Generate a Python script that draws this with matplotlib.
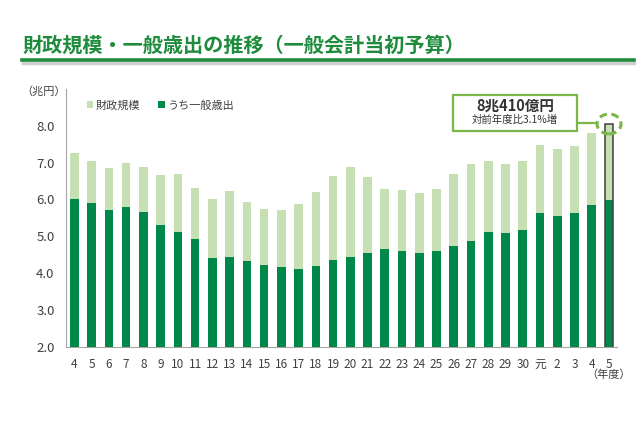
import matplotlib.pyplot as plt
from matplotlib.patches import Rectangle, Ellipse
from matplotlib.lines import Line2D

plt.rcParams['font.family'] = ['Noto Sans CJK JP', 'DejaVu Sans']

# 年度
years = ['4', '5', '6', '7', '8', '9', '10', '11', '12', '13', '14', '15', '16',
         '17', '18', '19', '20', '21', '22', '23', '24', '25', '26', '27', '28',
         '29', '30', '元', '2', '3', '4', '5']
# 財政規模（兆円）
total = [7.26, 7.04, 6.86, 7.00, 6.89, 6.67, 6.70, 6.32, 6.01, 6.23, 5.93, 5.75,
         5.72, 5.88, 6.19, 6.63, 6.87, 6.62, 6.29, 6.26, 6.17, 6.29, 6.69, 6.97,
         7.03, 6.97, 7.05, 7.49, 7.38, 7.46, 7.80, 8.04]
# うち一般歳出（兆円）
general = [6.01, 5.90, 5.70, 5.78, 5.67, 5.31, 5.12, 4.91, 4.40, 4.43, 4.32, 4.21,
           4.15, 4.11, 4.20, 4.35, 4.43, 4.55, 4.64, 4.60, 4.54, 4.61, 4.73, 4.88,
           5.11, 5.08, 5.18, 5.62, 5.55, 5.63, 5.86, 5.97]

LIGHT = '#c6e0b4'
DARK = '#00874a'
ACCENT = '#7ab648'
TITLE_GREEN = '#1e8c3c'
GRAY = '#404040'

fig = plt.figure(figsize=(6.4, 4.26), dpi=100)
fig.patch.set_facecolor('white')

# title + underline
fig.text(0.035, 0.895, '財政規模・一般歳出の推移（一般会計当初予算）',
         fontsize=14.5, fontweight='bold', color=TITLE_GREEN, va='center', ha='left')
fig.add_artist(Line2D([0.036, 0.99], [0.853, 0.853], color='#b0b0b0', lw=2.5, alpha=0.6))
fig.add_artist(Line2D([0.035, 0.99], [0.858, 0.858], color=TITLE_GREEN, lw=2.6))

ax = fig.add_axes([0.1027, 0.1866, 0.8613, 0.6044])
x = list(range(len(years)))

ax.bar(x, total, width=0.5, color=LIGHT, label='財政規模', zorder=2)
ax.bar(x, general, width=0.5, color=DARK, label='うち一般歳出', zorder=3)
# outline for latest year
ax.bar(x[-1], total[-1], width=0.5, fill=False, edgecolor=GRAY, lw=1.1, zorder=4)

ax.set_ylim(2.0, 9.0)
ax.set_xlim(-0.5, 31.46)
ax.set_yticks([2, 3, 4, 5, 6, 7, 8])
ax.set_yticklabels([f'{v:.1f}' for v in [2, 3, 4, 5, 6, 7, 8]])
ax.set_xticks(x)
ax.set_xticklabels(years)
ax.tick_params(axis='y', length=0, labelsize=9.5, colors=GRAY, pad=8)
ax.tick_params(axis='x', length=0, labelsize=8.5, colors=GRAY, pad=8)

for s in ['top', 'right']:
    ax.spines[s].set_visible(False)
ax.spines['left'].set_color('#a6a6a6')
ax.spines['bottom'].set_color('#a6a6a6')

ax.text(0.0, 0.99, '（兆円）', transform=ax.transAxes, ha='right', va='center',
        fontsize=8, color=GRAY)
ax.text(31.0, -0.11, '（年度）', transform=ax.get_xaxis_transform(), ha='center',
        va='center', fontsize=8, color=GRAY)

ax.legend(loc='upper left', bbox_to_anchor=(0.02, 0.995), ncol=2, frameon=False,
          fontsize=8, handlelength=0.6, handleheight=0.6, handletextpad=0.2,
          columnspacing=1.6, labelcolor=GRAY)

# annotation box
ax.add_patch(Rectangle((21.94, 7.85), 7.22, 0.98, fill=False, edgecolor=ACCENT,
                       lw=1.6, clip_on=False, zorder=5))
ax.text(25.55, 8.54, '8兆410億円', ha='center', va='center', fontsize=10.5,
        fontweight='bold', color='#333333', zorder=6)
ax.text(25.55, 8.16, '対前年度比3.1%増', ha='center', va='center', fontsize=7.5,
        color='#333333', zorder=6)
ax.plot([29.16, 30.3], [8.08, 8.08], color=ACCENT, lw=1.6, clip_on=False, zorder=5)
ax.add_patch(Ellipse((31.0, 8.05), 1.39, 0.54, fill=False, edgecolor=ACCENT,
                     lw=2.2, ls=(0, (2.5, 1.5)), clip_on=False, zorder=6))

fig.savefig('out.png', dpi=100)
